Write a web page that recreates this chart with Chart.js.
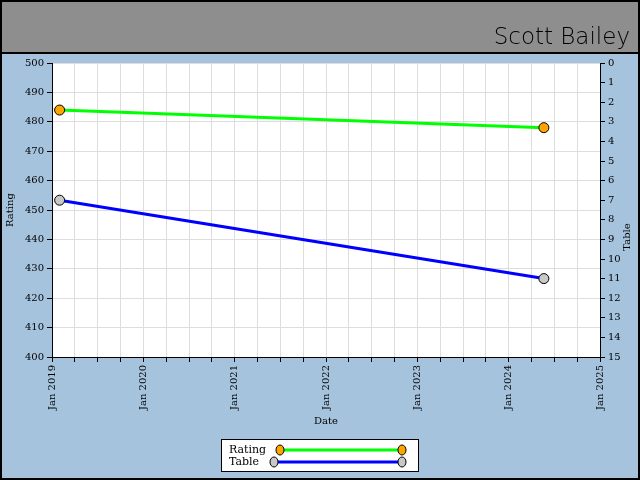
<!DOCTYPE html>
<html>
<head>
<meta charset="UTF-8">
<style>
  body { margin: 0; background: #a6c3de; }
  #wrap { width: 640px; height: 480px; position: relative; }
</style>
</head>
<body>
<div id="wrap"><canvas id="c" width="640" height="480"></canvas></div>
<script src="https://cdn.jsdelivr.net/npm/chart.js"></script>
<script>
// Data
const chartTitle = 'Scott Bailey';
const dates = ['2019-02-01', '2024-05-20'];
const ratingValues = [484, 478];
const tableValues = [7, 11];
const yearTicks = [2019, 2020, 2021, 2022, 2023, 2024, 2025];

function toYear(s) {
  const [y, m, d] = s.split('-').map(Number);
  return y + (m - 1) / 12 + (d - 1) / 365;
}

const serif = 'DejaVu Serif';

// header band + border + custom legend
const decor = {
  id: 'decor',
  beforeDraw(chart) {
    const ctx = chart.ctx;
    ctx.save();
    ctx.fillStyle = '#a6c3de';
    ctx.fillRect(0, 0, 640, 480);
    ctx.fillStyle = '#8e8e8e';
    ctx.fillRect(0, 0, 640, 53);
    ctx.fillStyle = '#000';
    ctx.fillRect(0, 52, 640, 2);
    ctx.strokeStyle = '#000';
    ctx.lineWidth = 2;
    ctx.strokeRect(1, 1, 638, 478);
    ctx.font = '200 23px "DejaVu Sans", sans-serif';
    ctx.textAlign = 'right';
    ctx.textBaseline = 'alphabetic';
    ctx.fillText(chartTitle, 630, 44);
    const a = chart.chartArea;
    ctx.fillStyle = '#fff';
    ctx.fillRect(a.left, a.top, a.right - a.left, a.bottom - a.top);
    ctx.restore();
  },
  afterDraw(chart) {
    const ctx = chart.ctx;
    ctx.save();
    // right axis title, reading bottom to top
    ctx.fillStyle = '#000';
    ctx.font = '10px ' + serif;
    ctx.textAlign = 'center';
    ctx.textBaseline = 'middle';
    ctx.translate(627, 237);
    ctx.rotate(-Math.PI / 2);
    ctx.fillText('Table', 0, 0);
    ctx.setTransform(1, 0, 0, 1, 0, 0);
    ctx.restore();
    ctx.save();
    ctx.fillStyle = '#fff';
    ctx.fillRect(221, 439, 197, 32);
    ctx.strokeStyle = '#000';
    ctx.lineWidth = 1;
    ctx.strokeRect(221.5, 439.5, 197, 32);
    ctx.fillStyle = '#000';
    ctx.font = '11px ' + serif;
    ctx.textAlign = 'left';
    ctx.textBaseline = 'middle';
    ctx.fillText('Rating', 229, 450);
    ctx.fillText('Table', 229, 462);
    const rows = [[280, 450, '#00ff00', '#ffa500'], [274, 462, '#0000ff', '#c8c8c8']];
    rows.forEach(([x0, y, line, fill]) => {
      ctx.strokeStyle = line;
      ctx.lineWidth = 3;
      ctx.beginPath(); ctx.moveTo(x0, y); ctx.lineTo(402, y); ctx.stroke();
      [x0, 402].forEach(x => {
        ctx.fillStyle = fill;
        ctx.strokeStyle = '#000';
        ctx.lineWidth = 1;
        ctx.beginPath(); ctx.ellipse(x, y, 4, 5, 0, 0, Math.PI * 2); ctx.fill(); ctx.stroke();
      });
    });
    ctx.restore();
  }
};

const xs = dates.map(toYear);

new Chart(document.getElementById('c'), {
  type: 'line',
  data: {
    datasets: [
      {
        label: 'Rating',
        data: xs.map((x, i) => ({ x: x, y: ratingValues[i] })),
        yAxisID: 'y',
        borderColor: '#00ff00',
        borderWidth: 3,
        pointBackgroundColor: '#ffa500',
        pointBorderColor: '#000',
        pointBorderWidth: 1,
        pointRadius: 5
      },
      {
        label: 'Table',
        data: xs.map((x, i) => ({ x: x, y: tableValues[i] })),
        yAxisID: 'y2',
        borderColor: '#0000ff',
        borderWidth: 3,
        pointBackgroundColor: '#c8c8c8',
        pointBorderColor: '#000',
        pointBorderWidth: 1,
        pointRadius: 5
      }
    ]
  },
  options: {
    responsive: false,
    animation: false,
    layout: { padding: { top: 63, bottom: 53, left: 0, right: 0 } },
    plugins: { legend: { display: false }, tooltip: { enabled: false } },
    scales: {
      x: {
        type: 'linear',
        min: yearTicks[0],
        max: yearTicks[yearTicks.length - 1],
        afterBuildTicks(scale) {
          const t = [];
          for (let v = scale.min; v <= scale.max + 1e-6; v += 0.25) t.push({ value: v });
          scale.ticks = t;
        },
        afterFit(scale) { scale.height = 70; },
        ticks: {
          autoSkip: false,
          maxRotation: 90,
          minRotation: 90,
          color: '#000',
          font: { family: serif, size: 10 },
          callback: v => yearTicks.includes(Math.round(v * 100) / 100) ? 'Jan ' + v : ''
        },
        grid: { color: '#dddddd', tickColor: '#000', tickLength: 5 },
        border: { color: '#000' },
        title: { display: true, text: 'Date', color: '#000', font: { family: serif, size: 10 }, padding: 0 }
      },
      y: {
        position: 'left',
        min: 400, max: 500,
        afterFit(scale) { scale.width = 52; },
        ticks: { stepSize: 10, color: '#000', font: { family: serif, size: 10 } },
        grid: { color: '#dddddd', tickColor: '#000', tickLength: 5 },
        border: { color: '#000' },
        title: { display: true, text: 'Rating', color: '#000', font: { family: serif, size: 10 }, padding: 4 }
      },
      y2: {
        position: 'right',
        reverse: true,
        min: 0, max: 15,
        afterFit(scale) { scale.width = 40; },
        ticks: { stepSize: 1, color: '#000', font: { family: serif, size: 10 } },
        grid: { drawOnChartArea: false, tickColor: '#000', tickLength: 5 },
        border: { color: '#000' },
        title: { display: false }
      }
    }
  },
  plugins: [decor]
});
</script>
</body>
</html>
